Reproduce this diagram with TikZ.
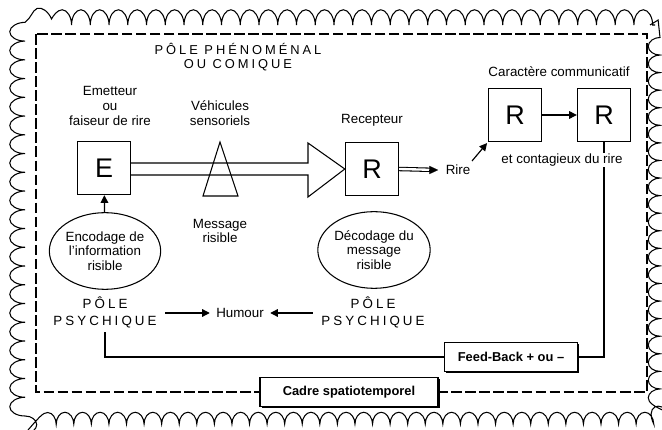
\documentclass[tikz,border=0pt]{standalone}
\usepackage{fontspec}
\setmainfont{Liberation Sans}
\newfontfamily\spaced[LetterSpace=23]{Liberation Sans}
\usetikzlibrary{positioning, arrows.meta, shapes.geometric, decorations.pathmorphing, shadows}

\begin{document}
\begin{tikzpicture}[x=0.03cm, y=-0.03cm,
    every node/.style={font=\fontsize{11.4}{12.4}\selectfont, align=center},
    trait/.style={line width=0.9pt},
    lettre/.style={draw, line width=0.9pt, minimum size=1.6cm, inner sep=0pt, font=\fontsize{23}{26}\selectfont},
    bulle/.style={draw, ellipse, line width=0.9pt, minimum width=3.3cm, minimum height=2.3cm, inner sep=0pt},
    pole/.style={font=\spaced\fontsize{11.4}{14.5}\selectfont},
    cadre/.style={draw, line width=0.9pt, fill=white, minimum height=0.86cm, font=\bfseries\fontsize{11}{12}\selectfont,
        drop shadow={shadow xshift=1.4pt, shadow yshift=-1.4pt, fill=black, opacity=1}},
    fleche/.style={-{Triangle[length=6.5pt, width=6.5pt]}, line width=1pt},
    feston/.style={line width=0.9pt, decorate}]
    \useasboundingbox (0,0) rectangle (662,430);

    % bord festonne
    \draw[feston, decoration={bumps, segment length=32pt, amplitude=13pt}]
        (25,416) -- (25,40) to[out=90, in=180] (40,25) -- (655,25);
    \draw[feston, decoration={bumps, segment length=30pt, amplitude=10pt}]
        (25,416) to[out=-90, in=180] (40,424) -- (645,424) to[out=0, in=-90] (660,410) -- (660,40) to[out=90, in=0] (650,25);
    \draw[line width=1pt, dash pattern=on 9pt off 3pt] (36,34) rectangle (647,392);

    \node[font=\spaced\fontsize{11}{12.4}\selectfont] (comique) at (238,57) {PÔLE PHÉNOMÉNAL\\OU COMIQUE};

    \node[lettre] (E) at (104,168) {E};
    \node[lettre] (R) at (372,169) {R};
    \node[lettre] (R1) at (515,115) {R};
    \node[lettre] (R2) at (604,115) {R};

    \node (emetteur) at (110,106) {Emetteur\\ou\\faiseur de rire};
    \node (vehicules) at (220,113) {Véhicules\\sensoriels};
    \node (recepteur) at (372,120) {Recepteur};
    \node (message) at (220,231) {Message\\risible};
    \node (carac) at (559,72) {Caractère communicatif};
    \node (rire) at (458,170) {Rire};

    \node[bulle] (encodage) at (105,251) {Encodage de\\l'information\\risible};
    \node[bulle] (decodage) at (374,250) {Décodage du\\message\\risible};
    \node[pole] (psy1) at (105,312) {PÔLE\\PSYCHIQUE};
    \node[pole] (psy2) at (373,312) {PÔLE\\PSYCHIQUE};
    \node (humour) at (240,313) {Humour};

    \node[cadre, minimum width=4cm] (feed) at (511,357) {Feed-Back + ou –};
    \node[cadre, minimum width=5.34cm] (cadre) at (349,392) {Cadre spatiotemporel};

    % message
    \draw[trait] (E.east |- 0,163) -- (308,163) -- (308,143) -- (R.west) -- (308,197) -- (308,175) -- (E.east |- 0,175);
    \draw[trait] (220,142) -- (238,196) -- (203,196) -- cycle;

    \draw[fleche] (encodage) -- (E);
    \draw[double, double distance=2pt, line width=0.9pt, shorten >=6pt] (R.east) -- ([xshift=-3pt]rire.west);
    \draw[-{Triangle[length=7.5pt, width=7pt]}, line width=0.1pt] ([xshift=-9pt]rire.west) -- ([xshift=-3pt]rire.west);
    \draw[fleche, shorten >=1pt] ([xshift=-2pt]rire.north east) -- (R1.south west);
    \draw[fleche] (R1) -- (R2);
    \draw[fleche, shorten <=4pt, shorten >=2pt] (psy1.east |- humour.west) -- (humour.west);
    \draw[fleche, shorten <=4pt, shorten >=2pt] (psy2.west |- humour.east) -- (humour.east);

    % retour
    \draw[trait] (R2.south) -- (R2.south |- feed.east) -- (feed.east);
    \draw[trait] (feed.west) -- (psy1.south |- feed.west) -- (psy1.south);
    \node[fill=white, inner sep=1pt] (contag) at (562,160) {et contagieux du rire};
\end{tikzpicture}
\end{document}
